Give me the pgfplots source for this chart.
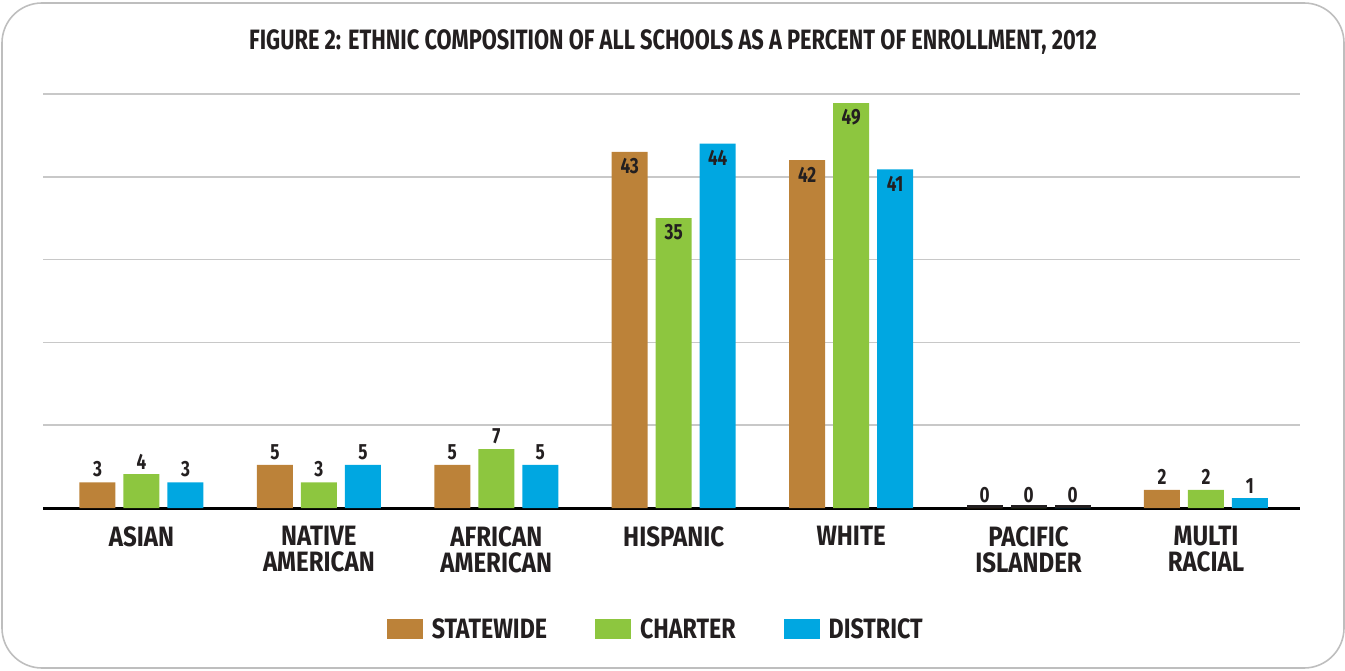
\documentclass[border=0pt]{standalone}
\usepackage{pgfplots}
\pgfplotsset{compat=1.18}
\usepackage{fontspec}
\setmainfont{Fira Sans}
\newfontfamily\condT{Fira Sans}[FakeStretch=0.78]
\newfontfamily\condL{Fira Sans}[FakeStretch=0.86]
\newfontfamily\condG{Fira Sans}[FakeStretch=0.83]
\newfontfamily\condV{Fira Sans}[FakeStretch=0.78]
\definecolor{cstate}{HTML}{BC8239}
\definecolor{ccharter}{HTML}{8DC63F}
\definecolor{cdistrict}{HTML}{00A7E1}
\definecolor{ctext}{HTML}{231F20}
\definecolor{cgrid}{HTML}{C8C8C8}
\definecolor{cborder}{HTML}{BEBEBE}
\begin{document}
\begin{tikzpicture}[x=1pt,y=1pt]
\useasboundingbox (0,0) rectangle (1345,670);
\draw[cborder, line width=1.6pt, rounded corners=40pt] (2,2) rectangle (1344,667);
\node[font=\condT\bfseries\fontsize{28}{30}\selectfont, text=ctext] at (673,628)
  {FIGURE 2: ETHNIC COMPOSITION OF ALL SCHOOLS AS A PERCENT OF ENROLLMENT, 2012};
\begin{axis}[
  at={(43pt,162pt)}, anchor=south west,
  scale only axis, width=1257pt, height=414pt,
  xmin=-0.555, xmax=6.53, ymin=0, ymax=50,
  ybar, bar width=36pt,
  axis x line*=bottom, axis y line*=left,
  y axis line style={draw=none},
  x axis line style={-, line width=3pt, black},
  ytick={10,20,30,40,50}, yticklabels={},
  ymajorgrids, major grid style={cgrid, line width=1.5pt},
  major tick length=0pt,
  xtick={0,1,2,3,4,5,6},
  xticklabels={ASIAN, NATIVE\\AMERICAN, AFRICAN\\AMERICAN, HISPANIC, WHITE, PACIFIC\\ISLANDER, MULTI\\RACIAL},
  xticklabel style={align=center, anchor=north, yshift=-15pt, text=ctext,
    font=\condL\bfseries\fontsize{28}{26}\selectfont},
  point meta=explicit symbolic,
  every node near coord/.append style={font=\condV\bfseries\fontsize{22}{22}\selectfont, text=ctext, yshift=1.5pt},
  coordinate style/.condition={y>10}{anchor=north, yshift=-4.5pt},
  legend columns=3,
  legend style={at={(0.4875,-0.292)}, anchor=center, draw=none, fill=none,
    font=\condG\bfseries\fontsize{28}{28}\selectfont, text=ctext,
    /tikz/every even column/.append style={column sep=46pt},
    /tikz/every odd column/.append style={column sep=7pt}},
  legend image code/.code={\fill[#1] (0pt,-10pt) rectangle (36pt,10pt);},
]
\addplot[fill=cstate, draw=none, bar shift=-44pt, nodes near coords={\pgfplotspointmeta}] coordinates {
 (0,3.1) [3] (1,5.2) [5] (2,5.2) [5] (3,43) [43] (4,42) [42] (5,0) [0] (6,2.2) [2]};
\addplot[fill=ccharter, draw=none, bar shift=0pt, nodes near coords={\pgfplotspointmeta}] coordinates {
 (0,4.1) [4] (1,3.1) [3] (2,7.1) [7] (3,35) [35] (4,48.9) [49] (5,0) [0] (6,2.2) [2]};
\addplot[fill=cdistrict, draw=none, bar shift=44pt, nodes near coords={\pgfplotspointmeta}] coordinates {
 (0,3.1) [3] (1,5.2) [5] (2,5.2) [5] (3,44) [44] (4,40.9) [41] (5,0) [0] (6,1.2) [1]};
\addplot[fill=ctext, draw=none, bar shift=-44pt, forget plot] coordinates {(5,0.35)};
\addplot[fill=ctext, draw=none, bar shift=0pt, forget plot] coordinates {(5,0.35)};
\addplot[fill=ctext, draw=none, bar shift=44pt, forget plot] coordinates {(5,0.35)};
\legend{STATEWIDE, CHARTER, DISTRICT}
\end{axis}
\end{tikzpicture}
\end{document}
